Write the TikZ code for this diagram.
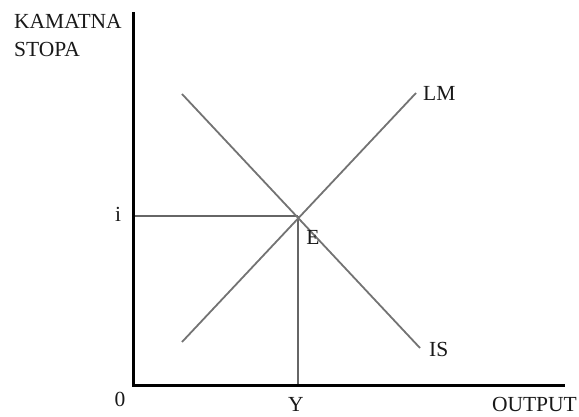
\documentclass[tikz,border=0pt]{standalone}
\usepackage{fontspec}
\setmainfont{Liberation Serif}
\begin{document}
\begin{tikzpicture}[x=1pt,y=-1pt,
  axis/.style={line width=3pt,black},
  curve/.style={line width=1.8pt,black!55},
  guide/.style={line width=1.8pt,black!60},
  lbl/.style={font=\fontsize{21.5}{24}\selectfont,inner sep=0pt,text=black!90}]
\useasboundingbox (0,0) rectangle (579,417);
\coordinate (top) at (133,14);
\coordinate (O) at (133,385);
\coordinate (right) at (563,385);
\coordinate (E) at (298,216);
\coordinate (lm1) at (182,342);
\coordinate (lm2) at (416,93);
\coordinate (is1) at (182,94);
\coordinate (is2) at (420,348);
\coordinate (iax) at (133,216);
\coordinate (yax) at (298,385);
\draw[guide] (iax) -- (E);
\draw[guide] (E) -- (yax);
\draw[curve] (lm1) -- (lm2);
\draw[curve] (is1) -- (is2);
\draw[axis,line cap=rect] (top) -- (O) -- (right);
\node[lbl,anchor=base west] (k) at (14,29) {KAMATNA};
\node[lbl,anchor=base west] (s) at (14,57) {STOPA};
\node[lbl,anchor=base] (i) at (118,222) {i};
\node[lbl,anchor=base] (e) at (313,244) {E};
\node[lbl,anchor=base west] (lm) at (423,101) {LM};
\node[lbl,anchor=base west] (is) at (429,356) {IS};
\node[lbl,anchor=base] (z) at (120,406) {0};
\node[lbl,anchor=base] (y) at (296,411) {Y};
\node[lbl,anchor=base east] (out) at (577,411) {OUTPUT};
\end{tikzpicture}
\end{document}
